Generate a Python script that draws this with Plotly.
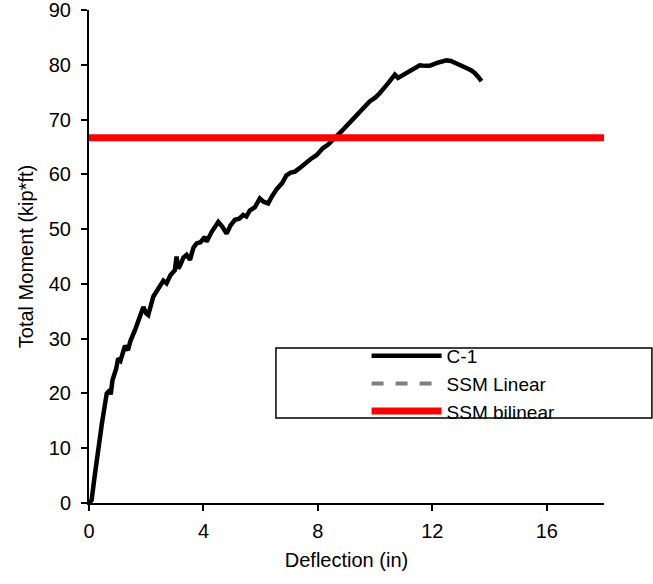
import plotly.graph_objects as go

# Test C-1: total moment vs. deflection
deflection_in = [
    0.00, 0.09, 0.20, 0.33, 0.45, 0.62, 0.73, 0.76, 0.82, 0.95,
    1.02, 1.10, 1.20, 1.26, 1.36, 1.45, 1.61, 1.75, 1.90, 2.00,
    2.07, 2.25, 2.40, 2.48, 2.60, 2.71, 2.85, 3.00, 3.06, 3.12,
    3.18, 3.30, 3.41, 3.53, 3.65, 3.76, 3.90, 4.05, 4.11, 4.30,
    4.52, 4.65, 4.81, 4.95, 5.10, 5.25, 5.39, 5.50, 5.62, 5.80,
    5.97, 6.10, 6.26, 6.40, 6.56, 6.75, 6.90, 7.05, 7.20, 7.40,
    7.60, 7.75, 7.95, 8.18, 8.35, 8.53, 8.70, 8.83, 9.10, 9.35,
    9.60, 9.81, 10.00, 10.16, 10.45, 10.69, 10.80, 11.00, 11.21, 11.40,
    11.56, 11.75, 11.91, 12.14, 12.30, 12.49, 12.65, 12.84, 13.00, 13.19,
    13.35, 13.48, 13.62, 13.72,
]
moment_kipft = [
    0.0, 0.5, 5.0, 10.2, 14.5, 20.0, 20.6, 19.8, 22.4, 24.5,
    26.4, 26.0, 28.0, 28.7, 27.9, 29.6, 31.6, 33.5, 35.8, 34.6,
    34.3, 37.7, 38.8, 39.5, 40.6, 40.1, 41.6, 42.5, 45.0, 42.8,
    43.3, 44.8, 45.3, 44.4, 46.6, 47.4, 47.6, 48.6, 47.7, 49.6,
    51.3, 50.5, 49.2, 50.7, 51.7, 51.9, 52.6, 52.3, 53.4, 54.0,
    55.6, 55.0, 54.7, 56.0, 57.3, 58.4, 59.8, 60.3, 60.5, 61.3,
    62.3, 62.8, 63.5, 64.8, 65.4, 66.2, 67.2, 67.9, 69.4, 70.8,
    72.0, 73.3, 74.0, 74.8, 76.6, 78.2, 77.6, 78.2, 78.9, 79.5,
    79.9, 79.8, 79.8, 80.3, 80.6, 80.8, 80.7, 80.3, 79.9, 79.4,
    79.0, 78.5, 77.7, 77.0,
]

# SSM linear model (no points within this range)
linear_x = [None]
linear_y = [None]

# SSM bilinear capacity
bilinear_x = [0, 18]
bilinear_y = [66.7, 66.7]

x_ticks = [0, 4, 8, 12, 16]
y_ticks = [0, 10, 20, 30, 40, 50, 60, 70, 80, 90]

FONT = "Liberation Sans, Arial, sans-serif"
FS = 20

fig = go.Figure()
fig.add_trace(go.Scatter(
    x=deflection_in, y=moment_kipft, mode="lines", name="C-1",
    line=dict(color="black", width=4.5),
))
fig.add_trace(go.Scatter(
    x=linear_x, y=linear_y, mode="lines", name="SSM Linear",
    line=dict(color="#808080", width=4, dash="dash"),
))
fig.add_trace(go.Scatter(
    x=bilinear_x, y=bilinear_y, mode="lines", name="SSM bilinear",
    line=dict(color="#ff0000", width=7), cliponaxis=False,
))

axis_common = dict(
    showgrid=False, zeroline=False, showline=True, linecolor="black",
    linewidth=2, ticks="outside", ticklen=6, tickwidth=2, tickcolor="black",
    tickfont=dict(family=FONT, size=FS, color="black"),
    ticklabeloverflow="allow", automargin=False,
)

fig.update_layout(
    width=653, height=584,
    margin=dict(l=89, r=49, t=10, b=81),
    paper_bgcolor="white", plot_bgcolor="white",
    font=dict(family=FONT, size=FS, color="black"),
    xaxis=dict(
        range=[0, 18], tickvals=x_ticks, ticklabelstandoff=3,
        title=dict(text="Deflection (in)", font=dict(family=FONT, size=FS), standoff=12),
        **axis_common,
    ),
    yaxis=dict(
        range=[0, 90], tickvals=y_ticks, ticklabelstandoff=6,
        title=dict(text="Total Moment (kip*ft)", font=dict(family=FONT, size=FS), standoff=10),
        **axis_common,
    ),
    showlegend=True,
    legend=dict(
        x=0.539, y=0.337, xanchor="left", yanchor="top",
        bgcolor="rgba(0,0,0,0)", borderwidth=0,
        font=dict(family=FONT, size=19, color="black"),
        itemwidth=70, tracegroupgap=0,
    ),
    shapes=[dict(
        type="rect", xref="paper", yref="paper",
        x0=0.363, x1=1.093, y0=0.1724, y1=0.3144,
        line=dict(color="black", width=1.5), fillcolor="rgba(0,0,0,0)",
        layer="below",
    )],
)

fig.write_html("out.html")
